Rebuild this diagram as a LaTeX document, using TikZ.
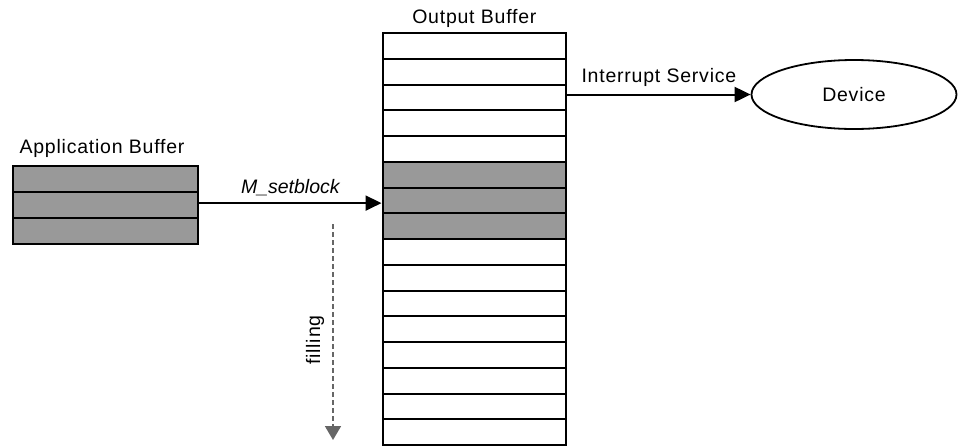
\documentclass[tikz,border=0pt]{standalone}
\usepackage{fontspec}
\setmainfont{Liberation Sans}
\usetikzlibrary{arrows.meta,shapes.geometric}
\definecolor{slotfill}{HTML}{999999}
\definecolor{fillarrow}{HTML}{666666}
\begin{document}
\begin{tikzpicture}[x=1pt,y=-1pt,
  lbl/.style={font=\fontsize{19.5}{23}\selectfont\addfontfeatures{LetterSpace=4}},
  slot/.style={draw,line width=2.2pt,inner sep=0pt,anchor=north west,minimum width=183.5pt,minimum height=25.75pt},
  appslot/.style={slot,fill=slotfill,minimum width=185pt,minimum height=26pt},
  flow/.style={line width=2pt,-{Triangle[length=16pt,width=15pt]}}]
\useasboundingbox (0,0) rectangle (958,445);

% output buffer: sixteen slots, three of them filled
\foreach \i in {1,...,16}{
  \pgfmathsetmacro{\ty}{32+(\i-1)*25.75}
  \ifnum\i>5 \ifnum\i<9
    \node[slot,fill=slotfill] (ob\i) at (381.5,\ty) {};
  \else
    \node[slot] (ob\i) at (381.5,\ty) {};
  \fi\else
    \node[slot] (ob\i) at (381.5,\ty) {};
  \fi
}
\node[lbl,above=1pt] (oblabel) at (ob1.north) {Output Buffer};

% application buffer
\foreach \i in {1,2,3}{
  \pgfmathsetmacro{\ty}{164.5+(\i-1)*26}
  \node[appslot] (ab\i) at (12,\ty) {};
}
\node[lbl,anchor=south west] (ablabel) at (16,161) {Application Buffer};

% device
\node[draw,ellipse,line width=1.8pt,minimum width=205pt,minimum height=69pt,lbl] (dev) at (854,94.5) {Device};

% transfers
\draw[flow] ([yshift=1.5pt]ab2.east) -- ([yshift=1.5pt]ab2.east -| ob7.west)
  node[midway,above=3pt,lbl,font=\fontsize{19.5}{23}\selectfont\itshape] (setlbl) {M\_setblock};
\draw[flow] (dev.west -| ob3.east) -- (dev.west)
  node[midway,above=4pt,lbl] (intlbl) {Interrupt Service};

% filling direction
\coordinate (fstart) at (333,224);
\coordinate (fend) at (333,440);
\draw[fillarrow,line width=1.8pt,dash pattern=on 5pt off 3pt,
  -{Triangle[length=14pt,width=16pt,fill=fillarrow]}] (fstart) -- (fend);
\node[lbl,rotate=90] (filllbl) at (315,340) {filling};
\end{tikzpicture}
\end{document}
